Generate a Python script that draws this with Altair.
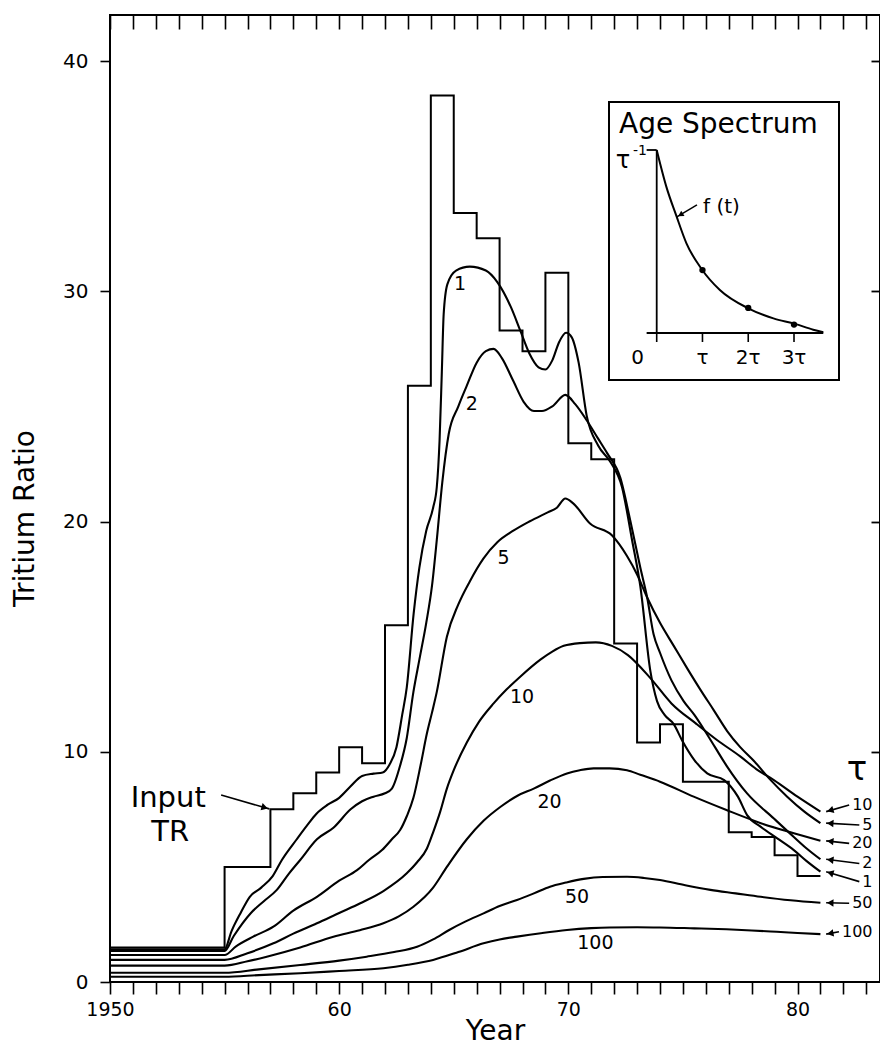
import math
import altair as alt
import pandas as pd

# ---------------- data ----------------
STEP_YEARS = [1950, 1955, 1957, 1958, 1959, 1960, 1961, 1962, 1963, 1964, 1965, 1966, 1967,
              1968, 1969, 1970, 1971, 1972, 1973, 1974, 1975, 1977, 1978, 1979, 1980, 1981]
STEP_TR = [1.5, 5.0, 7.5, 8.2, 9.1, 10.2, 9.5, 15.5, 25.9, 38.5, 33.4, 32.3, 28.3,
           27.4, 30.8, 23.4, 22.7, 14.7, 10.4, 11.2, 8.7, 6.5, 6.3, 5.5, 4.6, 4.6]

T1_YEARS = [1950, 1955, 1955.3, 1955.7, 1956.1, 1956.6, 1957.1, 1957.5, 1958.15, 1958.6, 1959.0,
            1959.5, 1960.0, 1960.5, 1961.0, 1961.5, 1961.9, 1962.2, 1962.5, 1962.75, 1962.95,
            1963.25, 1963.5, 1963.8, 1964.1, 1964.26, 1964.38, 1964.48, 1964.56, 1964.72, 1965.1,
            1965.7, 1966.4, 1966.9, 1967.5, 1967.9, 1968.3, 1968.7, 1969.0, 1969.3, 1969.6,
            1969.9, 1970.15, 1970.45, 1970.8, 1971.3, 1971.83, 1972.34, 1972.78, 1973.14,
            1973.58, 1973.87, 1974.2, 1974.6, 1974.96, 1975.5, 1976.06, 1976.8, 1977.4, 1977.8,
            1978.4, 1979.1, 1979.84, 1980.4, 1981.0]
T1_TR = [1.42, 1.42, 2.2, 3.0, 3.7, 4.1, 4.6, 5.3, 6.2, 6.8, 7.3,
         7.7, 8.0, 8.5, 8.95, 9.05, 9.1, 9.45, 10.2, 11.6, 12.8,
         16.0, 18.0, 19.6, 20.6, 21.5, 23.5, 26.5, 29.0, 30.3, 30.9,
         31.07, 30.9, 30.4, 29.3, 28.3, 27.3, 26.7, 26.6, 27.0, 27.8,
         28.2, 28.0, 26.9, 24.6, 23.3, 22.6, 21.5, 19.2, 17.2,
         13.5, 12.2, 11.6, 11.2, 10.5, 9.64, 9.06, 8.77, 8.05, 7.25,
         6.74, 6.25, 5.73, 5.25, 4.79]

T2_YEARS = [1950, 1955, 1955.4, 1956.15, 1956.7, 1957.28, 1957.8, 1958.3, 1959.03, 1959.75,
            1960.5, 1961.0, 1961.5, 1962.0, 1962.3, 1962.66, 1962.95, 1963.24, 1963.5, 1963.8,
            1964.05, 1964.26, 1964.5, 1964.78, 1965.2, 1965.57, 1966.0, 1966.4, 1966.74, 1967.1,
            1967.6, 1968.05, 1968.5, 1968.85, 1969.3, 1969.87, 1970.3, 1970.8, 1971.3, 1971.7,
            1972.27, 1972.7, 1973.14, 1973.44, 1973.72, 1974.0, 1974.5, 1975.03, 1975.5, 1975.9,
            1976.4, 1976.9, 1977.8, 1978.97, 1979.84, 1980.4, 1981.0]
T2_TR = [1.35, 1.35, 2.0, 3.0, 3.5, 4.0, 4.7, 5.3, 6.2, 6.7,
         7.5, 7.85, 8.05, 8.2, 8.4, 9.4, 10.6, 12.6, 14.0, 15.6,
         17.2, 19.2, 21.7, 23.8, 25.0, 25.9, 26.9, 27.4, 27.5, 27.1,
         26.1, 25.2, 24.8, 24.8, 25.0, 25.5, 25.1, 24.4, 23.6, 22.96,
         21.9, 20.06, 18.0, 16.7, 15.1, 14.3, 13.1, 12.2, 11.6, 11.0,
         10.2, 9.4, 8.19, 7.1, 6.3, 5.8, 5.33]

T5_YEARS = [1950, 1955, 1955.5, 1956.25, 1957.13, 1958.0, 1959.03, 1960.0, 1960.78, 1961.3,
            1961.87, 1962.3, 1962.66, 1962.95, 1963.24, 1963.55, 1963.83, 1964.05, 1964.26,
            1964.7, 1965.2, 1965.7, 1966.3, 1966.9, 1967.6, 1968.3, 1969.1, 1969.5, 1969.87,
            1970.2, 1970.96, 1971.9, 1972.56, 1973.0, 1973.44, 1974.0, 1974.6, 1975.2, 1975.76,
            1976.35, 1976.93, 1977.5, 1978.1, 1978.8, 1979.55, 1980.3, 1981.0]
T5_TR = [1.17, 1.17, 1.55, 1.97, 2.4, 3.1, 3.7, 4.4, 4.86, 5.3,
         5.73, 6.2, 6.6, 7.2, 8.0, 9.4, 10.8, 11.7, 12.6,
         15.0, 16.4, 17.4, 18.4, 19.1, 19.6, 20.0, 20.4, 20.6, 21.0,
         20.8, 19.9, 19.4, 18.5, 17.7, 16.7, 15.6, 14.6, 13.6, 12.7,
         11.8, 10.9, 10.2, 9.6, 8.8, 8.05, 7.4, 6.9]

T10_YEARS = [1950, 1955, 1956.0, 1957.13, 1958.0, 1959.03, 1960.0, 1960.92, 1961.93, 1962.95,
             1963.4, 1963.83, 1964.1, 1964.41, 1964.7, 1965.0, 1965.57, 1966.1, 1966.74, 1967.3,
             1967.9, 1968.78, 1969.3, 1969.8, 1970.5, 1971.2, 1971.9, 1972.6, 1973.58, 1974.5,
             1975.6, 1976.5, 1977.5, 1978.2, 1978.97, 1980.0, 1981.0]
T10_TR = [0.96, 0.96, 1.25, 1.68, 2.1, 2.55, 3.0, 3.42, 3.95, 4.72,
          5.2, 5.8, 6.5, 7.4, 8.4, 9.2, 10.4, 11.3, 12.1, 12.7,
          13.26, 14.0, 14.35, 14.6, 14.72, 14.75, 14.6, 14.2, 13.2, 12.1,
          11.2, 10.5, 9.8, 9.25, 8.77, 8.05, 7.4]

T20_YEARS = [1950, 1955, 1956.0, 1956.84, 1958.3, 1959.75, 1960.9, 1961.93, 1962.6, 1963.24,
             1964.1, 1964.7, 1965.57, 1966.3, 1967.03, 1967.8, 1968.49, 1969.2, 1969.94, 1970.5,
             1971.1, 1971.8, 1972.56, 1973.14, 1974.0, 1975.47, 1976.9, 1978.4, 1979.84, 1981.0]
T20_TR = [0.71, 0.71, 0.9, 1.1, 1.5, 1.97, 2.25, 2.55, 2.85, 3.27,
          4.1, 5.0, 6.2, 7.0, 7.6, 8.1, 8.4, 8.75, 9.06, 9.2,
          9.28, 9.28, 9.2, 9.0, 8.7, 8.05, 7.47, 6.9, 6.46, 6.13]

T50_YEARS = [1950, 1955, 1956.5, 1958.3, 1960.0, 1961.2, 1962.4, 1963.4, 1964.1, 1964.8,
             1965.5, 1966.3, 1967.0, 1967.76, 1968.5, 1969.2, 1969.9, 1970.67, 1971.5, 1972.56,
             1973.3, 1974.0, 1975.1, 1976.2, 1977.3, 1978.4, 1979.7, 1981.0]
T50_TR = [0.40, 0.40, 0.55, 0.74, 0.93, 1.1, 1.3, 1.53, 1.85, 2.26,
          2.62, 2.98, 3.3, 3.56, 3.85, 4.14, 4.32, 4.48, 4.56, 4.57,
          4.52, 4.43, 4.2, 4.0, 3.85, 3.7, 3.55, 3.44]

T100_YEARS = [1950, 1955, 1956.5, 1958.3, 1960.0, 1961.93, 1963.0, 1964.1, 1965.2, 1966.3,
              1967.0, 1967.76, 1968.8, 1969.94, 1971.0, 1971.8, 1973.0, 1974.0, 1975.5, 1976.9,
              1978.0, 1979.1, 1980.0, 1981.0]
T100_TR = [0.23, 0.23, 0.3, 0.38, 0.48, 0.6, 0.75, 0.96, 1.3, 1.68,
           1.85, 1.97, 2.12, 2.26, 2.34, 2.37, 2.38, 2.37, 2.33, 2.29,
           2.24, 2.18, 2.13, 2.08]

# labels written on the curves
CURVE_LABELS = ["1", "2", "5", "10", "20", "50", "100"]
CURVE_LABEL_YEAR = [1965.28, 1965.79, 1967.17, 1967.98, 1969.18, 1970.38, 1971.18]
CURVE_LABEL_TR = [30.3, 25.1, 18.4, 12.4, 7.83, 3.7, 1.68]

# labels at the right-hand end of the curves
END_LABELS = ["10", "5", "20", "2", "1", "50", "100"]
END_LABEL_TR = [7.69, 6.82, 6.02, 5.15, 4.36, 3.42, 2.18]
END_CURVE_TR = [7.4, 6.9, 6.13, 5.33, 4.79, 3.44, 2.08]

# inset: age spectrum f(t), t in units of tau, f in units of 1/tau
AGE_T = [0, 0.21, 0.43, 0.65, 0.98, 1.38, 2.0, 2.55, 3.02, 3.42, 3.64]
AGE_F = [1.0, 0.80, 0.64, 0.49, 0.35, 0.235, 0.135, 0.08, 0.05, 0.018, 0.004]
AGE_DOT_T = [1, 2, 3]
AGE_DOT_F = [0.344, 0.137, 0.046]
AGE_TICKS = [0, 1, 2, 3]
AGE_TICK_LABELS = ["0", "τ", "2τ", "3τ"]

# ---------------- layout ----------------
W, H = 770, 967
X0, X1 = 1950, 1983.6
Y0, Y1 = 0, 42
PXX = W / (X1 - X0)
PXY = H / (Y1 - Y0)
FONT = "DejaVu Sans"
END_FS = 16

XS = alt.Scale(domain=[X0, X1], nice=False, zero=False)
YS = alt.Scale(domain=[Y0, Y1], nice=False, zero=False)


def X(f):
    return alt.X(f"{f}:Q", scale=XS, axis=None)


def Y(f):
    return alt.Y(f"{f}:Q", scale=YS, axis=None)


step_df = pd.DataFrame({"year": STEP_YEARS, "tr": STEP_TR})

bottom_axis = alt.Axis(
    values=list(range(1950, 1984)),
    labelExpr="datum.value == 1950 ? '1950' : (datum.value % 10 == 0 ? toString(datum.value - 1900) : '')",
    title="Year", tickSize=12, tickWidth=1.6, tickColor="black", labelPadding=6,
    labelFontSize=19, labelColor="black", labelOverlap=False, labelFlush=False,
    domain=False, grid=False, titleFontSize=28, titleFontWeight="normal", titleColor="black",
    titleY=49, titleBaseline="middle", labelFont=FONT, titleFont=FONT)
left_axis = alt.Axis(
    values=[0, 10, 20, 30, 40], title="Tritium Ratio", tickSize=10, tickWidth=1.6,
    tickColor="black", labelPadding=12, labelFontSize=20, labelColor="black", domain=False,
    grid=False, titleFontSize=28, titleFontWeight="normal", titleColor="black",
    titleX=-85, titleY=503, titleAngle=270, titleAlign="center", titleBaseline="middle",
    labelFont=FONT, titleFont=FONT)

step = alt.Chart(step_df).mark_line(interpolate="step-after", color="black", strokeWidth=2).encode(
    x=alt.X("year:Q", scale=XS, axis=bottom_axis),
    y=alt.Y("tr:Q", scale=YS, axis=left_axis))

frame_axes = alt.Chart(step_df).mark_point(opacity=0, size=1).encode(
    x=alt.X("year:Q", scale=XS, axis=alt.Axis(
        orient="top", values=list(range(1950, 1984)), labels=False, tickSize=14, offset=-14,
        tickWidth=1.6, tickColor="black", domain=False, grid=False, title=None)),
    y=alt.Y("tr:Q", scale=YS, axis=alt.Axis(
        orient="right", values=[10, 20, 30, 40], labels=False, tickSize=9, offset=-9,
        tickWidth=1.8, tickColor="black", domain=False, grid=False, title=None)))

rows = []
for tau, ys, vs in [(1, T1_YEARS, T1_TR), (2, T2_YEARS, T2_TR), (5, T5_YEARS, T5_TR),
                    (10, T10_YEARS, T10_TR), (20, T20_YEARS, T20_TR), (50, T50_YEARS, T50_TR),
                    (100, T100_YEARS, T100_TR)]:
    for yr, v in zip(ys, vs):
        rows.append({"tau": tau, "year": yr, "tr": v})
curves_df = pd.DataFrame(rows)

curves = alt.Chart(curves_df).mark_line(color="black", strokeWidth=2.1, interpolate="monotone").encode(
    x=X("year"), y=Y("tr"), detail="tau:N")

curve_lbl_df = pd.DataFrame({"text": CURVE_LABELS, "year": CURVE_LABEL_YEAR, "tr": CURVE_LABEL_TR})
curve_lbls = alt.Chart(curve_lbl_df).mark_text(fontSize=19, font=FONT, color="black").encode(
    x=X("year"), y=Y("tr"), text="text:N")

# right-hand labels with arrows
LABEL_RIGHT_YEAR = X0 + 762.5 / PXX
TIP_YEAR = 1981.25
DIGIT_W = 0.636 * END_FS
end_rows = []
for txt, lv, cv in zip(END_LABELS, END_LABEL_TR, END_CURVE_TR):
    tail = LABEL_RIGHT_YEAR - (DIGIT_W * len(txt) + 3) / PXX
    dx = (TIP_YEAR - tail) * PXX
    dy = -(cv - lv) * PXY
    phi = math.degrees(math.atan2(dy, dx))
    ang = (phi - 180) % 360
    head_year = TIP_YEAR + 0.18
    head_tr = cv + (lv - cv) * (0.18 / (tail - TIP_YEAR))
    end_rows.append({"text": txt, "ly": lv, "cy": cv, "tail": tail, "tip": TIP_YEAR,
                     "hx": head_year, "hy": head_tr, "ang": ang, "lx": LABEL_RIGHT_YEAR})
end_df = pd.DataFrame(end_rows)

end_shafts = alt.Chart(end_df).mark_rule(color="black", strokeWidth=1.6).encode(
    x=X("tip"), x2="tail:Q", y=Y("cy"), y2="ly:Q")
end_heads = alt.Chart(end_df).mark_point(shape="triangle-left", filled=True, color="black",
                                          size=55, opacity=1).encode(
    x=X("hx"), y=Y("hy"), angle=alt.Angle("ang:Q", scale=None))
end_text = alt.Chart(end_df).mark_text(fontSize=END_FS, font=FONT, color="black", align="right",
                                        baseline="middle").encode(
    x=X("lx"), y=Y("ly"), text="text:N")

tau_df = pd.DataFrame({"text": ["τ"], "year": [X0 + 747 / PXX], "tr": [9.2]})
tau_sym = alt.Chart(tau_df).mark_text(fontSize=34, font=FONT, color="black").encode(
    x=X("year"), y=Y("tr"), text="text:N")

input_df = pd.DataFrame({"text": ["Input", "TR"], "year": [1952.54, 1952.63], "tr": [8.0, 6.5]})
input_txt = alt.Chart(input_df).mark_text(fontSize=29, font=FONT, color="black").encode(
    x=X("year"), y=Y("tr"), text="text:N")

in_tail = (1954.85, 8.12)
in_tip = (1956.95, 7.52)
in_phi = math.degrees(math.atan2((in_tail[1] - in_tip[1]) * PXY, (in_tip[0] - in_tail[0]) * PXX))
in_arrow_df = pd.DataFrame({"x0": [in_tail[0]], "y0": [in_tail[1]], "x1": [in_tip[0]], "y1": [in_tip[1]],
                            "hx": [in_tip[0] - 0.2], "hy": [in_tip[1] + 0.2 * (in_tail[1] - in_tip[1]) / (in_tip[0] - in_tail[0])],
                            "ang": [in_phi % 360]})
in_shaft = alt.Chart(in_arrow_df).mark_rule(color="black", strokeWidth=1.6).encode(
    x=X("x0"), x2="x1:Q", y=Y("y0"), y2="y1:Q")
in_head = alt.Chart(in_arrow_df).mark_point(shape="triangle-right", filled=True, color="black",
                                            size=55, opacity=1).encode(
    x=X("hx"), y=Y("hy"), angle=alt.Angle("ang:Q", scale=None))

main = alt.layer(step, frame_axes, curves, curve_lbls, end_shafts, end_heads, end_text,
                 tau_sym, input_txt, in_shaft, in_head).resolve_axis(x="independent", y="independent")

# ---------------- inset ----------------
BOX = dict(l=609 - 110, r=839 - 110, t=102 - 15, b=380 - 15)
TS = alt.Scale(domain=[0, 3.64], range=[656.7 - 110, 823.3 - 110], nice=False, zero=False)
FS = alt.Scale(domain=[0, 1], range=[333 - 15, 150 - 15], nice=False, zero=False)


def TX(f):
    return alt.X(f"{f}:Q", scale=TS, axis=None)


def FY(f):
    return alt.Y(f"{f}:Q", scale=FS, axis=None)


one = pd.DataFrame({"a": [0]})
box = alt.Chart(one).mark_rect(fill="white", stroke="black", strokeWidth=2).encode(
    x=alt.value(BOX["l"]), x2=alt.value(BOX["r"]), y=alt.value(BOX["t"]), y2=alt.value(BOX["b"]))

age_df = pd.DataFrame({"t": AGE_T, "f": AGE_F})
age_curve = alt.Chart(age_df).mark_line(color="black", strokeWidth=2, interpolate="monotone").encode(
    x=TX("t"), y=FY("f"))
dots_df = pd.DataFrame({"t": AGE_DOT_T, "f": AGE_DOT_F})
age_dots = alt.Chart(dots_df).mark_circle(color="black", size=40, opacity=1).encode(x=TX("t"), y=FY("f"))

inset_axes_df = pd.DataFrame({"t0": [-0.22, 0, -0.22], "t1": [3.64, 0, 0],
                              "f0": [0, 0, 1.0], "f1": [0, 1.0, 1.0]})
inset_axes = alt.Chart(inset_axes_df).mark_rule(color="black", strokeWidth=1.8).encode(
    x=TX("t0"), x2="t1:Q", y=FY("f0"), y2="f1:Q")

tick_df = pd.DataFrame({"t": AGE_TICKS, "lab": AGE_TICK_LABELS})
inset_ticks = alt.Chart(tick_df).mark_rule(color="black", strokeWidth=1.6).encode(
    x=TX("t"), y=alt.value(318), y2=alt.value(327))
inset_tick_lbl = alt.Chart(tick_df[tick_df["t"] > 0]).mark_text(
    fontSize=20, font=FONT, color="black", baseline="middle").encode(
    x=TX("t"), y=alt.value(343), text="lab:N")
inset_zero_lbl = alt.Chart(tick_df[tick_df["t"] == 0]).mark_text(
    fontSize=20, font=FONT, color="black", baseline="middle", dx=-19).encode(
    x=TX("t"), y=alt.value(343), text="lab:N")

title_in = alt.Chart(one).mark_text(text="Age Spectrum", fontSize=28, font=FONT, color="black",
                                    align="left", baseline="alphabetic").encode(
    x=alt.value(509), y=alt.value(118))
tau_inv = alt.Chart(one).mark_text(text="τ", fontSize=24, font=FONT, color="black",
                                   align="center", baseline="middle").encode(
    x=alt.value(513), y=alt.value(146))
tau_inv_exp = alt.Chart(one).mark_text(text="-1", fontSize=14, font=FONT, color="black",
                                       align="center", baseline="middle").encode(
    x=alt.value(530), y=alt.value(136))
ft_lbl = alt.Chart(one).mark_text(text="f (t)", fontSize=20, font=FONT, color="black",
                                  align="left", baseline="middle").encode(
    x=alt.value(593), y=alt.value(192))

ft_tail = (0.88, 0.70)
ft_tip = (0.44, 0.634)
ft_phi = math.degrees(math.atan2(-(ft_tip[1] - ft_tail[1]) * 183, (ft_tip[0] - ft_tail[0]) * 45.8))
ft_df = pd.DataFrame({"t0": [ft_tail[0]], "f0": [ft_tail[1]], "t1": [ft_tip[0]], "f1": [ft_tip[1]],
                      "ht": [ft_tip[0] + 0.08], "hf": [ft_tip[1] + 0.012],
                      "ang": [(ft_phi - 180) % 360]})
ft_shaft = alt.Chart(ft_df).mark_rule(color="black", strokeWidth=1.5).encode(
    x=TX("t0"), x2="t1:Q", y=FY("f0"), y2="f1:Q")
ft_head = alt.Chart(ft_df).mark_point(shape="triangle-left", filled=True, color="black",
                                      size=40, opacity=1).encode(
    x=TX("ht"), y=FY("hf"), angle=alt.Angle("ang:Q", scale=None))

inset = alt.layer(box, inset_axes, inset_ticks, age_curve, age_dots, inset_tick_lbl, inset_zero_lbl,
                  title_in, tau_inv, tau_inv_exp, ft_lbl, ft_shaft, ft_head)

chart = alt.layer(main, inset).resolve_scale(x="independent", y="independent").properties(
    width=W, height=H,
    padding={"left": 110, "top": 15, "right": 0, "bottom": 73},
    autosize=alt.AutoSizeParams(type="none"),
).configure(font=FONT, background="white").configure_view(stroke="black", strokeWidth=2)

chart.save("out.html", embed_options={"renderer": "svg", "actions": False})
